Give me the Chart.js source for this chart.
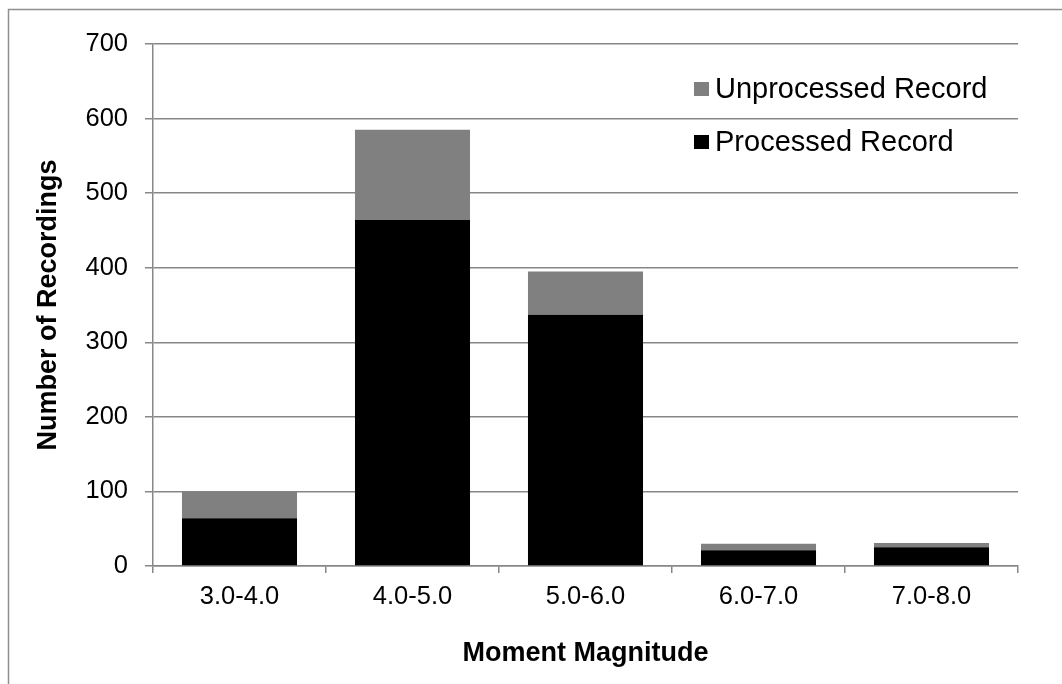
<!DOCTYPE html>
<html>
<head>
<meta charset="utf-8">
<title>Number of Recordings by Moment Magnitude</title>
<script src="https://cdn.jsdelivr.net/npm/chart.js@4"></script>
<style>
  html, body { margin: 0; padding: 0; background: #ffffff; }
  #wrap { position: relative; width: 1062px; height: 684px; }
</style>
</head>
<body>
<div id="wrap"><canvas id="chart" width="1062" height="684"></canvas></div>
<script>
// Magnitude bins and record counts per bin
const magnitudeBins = ['3.0-4.0', '4.0-5.0', '5.0-6.0', '6.0-7.0', '7.0-8.0'];
const processedRecords = [64, 464, 337, 21, 25];
const unprocessedRecords = [36, 121, 58, 9, 6];
const countAxisMax = 700;
const countAxisStep = 100;

const FONT = "'Liberation Sans', Arial, Helvetica, sans-serif";
const GRID = '#878787';

// Outer frame line along the left and top edges
const framePlugin = {
  id: 'frame',
  beforeDraw(chart) {
    const ctx = chart.ctx;
    ctx.save();
    ctx.fillStyle = '#ffffff';
    ctx.fillRect(0, 0, chart.width, chart.height);
    ctx.strokeStyle = '#8f8f8f';
    ctx.lineWidth = 1.5;
    ctx.beginPath();
    ctx.moveTo(8.5, chart.height + 5);
    ctx.lineTo(8.5, 9.5);
    ctx.lineTo(chart.width + 5, 9.5);
    ctx.stroke();
    ctx.restore();
  }
};

// Legend drawn inside the plot area, top-right, newest series first
const insideLegend = {
  id: 'insideLegend',
  afterDraw(chart) {
    const ctx = chart.ctx;
    const area = chart.chartArea;
    const x0 = area.right - 324;
    let y = area.top + 45;
    const rowGap = 53;
    ctx.save();
    ctx.font = '29px ' + FONT;
    ctx.textBaseline = 'middle';
    ctx.textAlign = 'left';
    const sets = chart.data.datasets.slice().reverse();
    sets.forEach(ds => {
      ctx.fillStyle = ds.backgroundColor;
      ctx.fillRect(x0, y - 7, 15, 14);
      ctx.fillStyle = '#000000';
      ctx.fillText(ds.label, x0 + 21, y + 1);
      y += rowGap;
    });
    ctx.restore();
  }
};

new Chart(document.getElementById('chart'), {
  type: 'bar',
  data: {
    labels: magnitudeBins,
    datasets: [
      {
        label: 'Processed Record',
        data: processedRecords,
        backgroundColor: '#000000',
        borderWidth: 0,
        barPercentage: 0.665,
        categoryPercentage: 1.0
      },
      {
        label: 'Unprocessed Record',
        data: unprocessedRecords,
        backgroundColor: '#808080',
        borderWidth: 0,
        barPercentage: 0.665,
        categoryPercentage: 1.0
      }
    ]
  },
  options: {
    responsive: false,
    animation: false,
    devicePixelRatio: 1,
    layout: { padding: { left: 9, top: 44, right: 44, bottom: 0 } },
    plugins: {
      legend: { display: false },
      tooltip: { enabled: false }
    },
    scales: {
      x: {
        stacked: true,
        grid: {
          offset: true,
          drawOnChartArea: false,
          drawTicks: true,
          tickLength: 7,
          color: GRID,
          lineWidth: 1.5
        },
        border: { color: GRID, width: 1.5 },
        ticks: {
          color: '#000000',
          font: { family: FONT, size: 25.5 },
          padding: 9,
          maxRotation: 0
        },
        title: {
          display: true,
          text: 'Moment Magnitude',
          color: '#000000',
          font: { family: FONT, size: 27, weight: 'bold' },
          padding: { top: 0, bottom: 14 }
        },
        afterFit(scale) { scale.height = 118; }
      },
      y: {
        stacked: true,
        min: 0,
        max: countAxisMax,
        grid: {
          color: GRID,
          lineWidth: 1.5,
          tickLength: 8
        },
        border: { color: GRID, width: 1.5 },
        ticks: {
          stepSize: countAxisStep,
          color: '#000000',
          font: { family: FONT, size: 25.5 },
          padding: 17
        },
        title: {
          display: true,
          text: 'Number of Recordings',
          color: '#000000',
          font: { family: FONT, size: 27, weight: 'bold' },
          padding: { top: 23, bottom: 0 }
        },
        afterFit(scale) { scale.width = 144; }
      }
    }
  },
  plugins: [framePlugin, insideLegend]
});
</script>
</body>
</html>
